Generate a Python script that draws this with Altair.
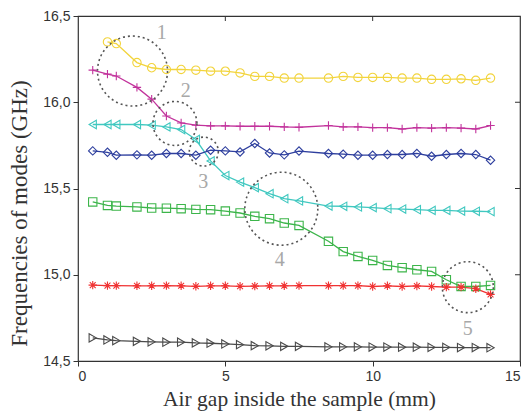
import altair as alt
import pandas as pd

# ---- data ----
x_all = [0.5, 1.0, 1.3, 2.0, 2.5, 3.0, 3.5, 4.0, 4.5, 5.0, 5.5, 6.0, 6.5, 7.0,
         7.5, 8.5, 9.0, 9.5, 10.0, 10.5, 11.0, 11.5, 12.0, 12.5, 13.0, 13.5, 14.0]

yellow = [16.35, 16.34, 16.23, 16.20, 16.19, 16.19, 16.186, 16.18, 16.18, 16.17,
          16.15, 16.15, 16.14, 16.14, 16.14, 16.15, 16.144, 16.144, 16.144, 16.14,
          16.14, 16.133, 16.133, 16.136, 16.127, 16.14]  # starts at x=1.0
magenta = [16.186, 16.163, 16.152, 16.086, 16.018, 15.92, 15.88, 15.867, 15.863, 15.863,
           15.861, 15.861, 15.861, 15.857, 15.855, 15.865, 15.857, 15.857, 15.853, 15.853,
           15.845, 15.853, 15.85, 15.853, 15.85, 15.845, 15.865]
cyan = [15.871, 15.871, 15.871, 15.871, 15.867, 15.857, 15.842, 15.784, 15.66, 15.575,
        15.537, 15.505, 15.47, 15.441, 15.428, 15.398, 15.397, 15.393, 15.389, 15.383,
        15.381, 15.377, 15.373, 15.373, 15.369, 15.368, 15.366]
blue = [15.718, 15.71, 15.693, 15.695, 15.693, 15.703, 15.703, 15.693, 15.722, 15.718,
        15.712, 15.761, 15.706, 15.695, 15.717, 15.703, 15.699, 15.693, 15.693, 15.697,
        15.697, 15.703, 15.687, 15.697, 15.703, 15.697, 15.664]
green = [15.422, 15.402, 15.398, 15.393, 15.387, 15.386, 15.383, 15.379, 15.377, 15.369,
         15.358, 15.339, 15.325, 15.30, 15.286, 15.194, 15.134, 15.106, 15.083, 15.054,
         15.041, 15.029, 15.019, 14.971, 14.932, 14.932, 14.938]
red = [14.94, 14.937, 14.937, 14.936, 14.936, 14.937, 14.936, 14.933, 14.936, 14.936,
       14.933, 14.934, 14.936, 14.936, 14.937, 14.937, 14.937, 14.937, 14.932, 14.936,
       14.932, 14.935, 14.932, 14.928, 14.928, 14.919, 14.886]
black = [14.634, 14.622, 14.618, 14.614, 14.611, 14.609, 14.609, 14.605, 14.603, 14.599,
         14.595, 14.589, 14.588, 14.585, 14.585, 14.582, 14.582, 14.582, 14.581, 14.581,
         14.58, 14.58, 14.579, 14.579, 14.578, 14.578, 14.577]

series_names = ["yellow", "magenta", "cyan", "blue", "green", "red", "black"]
series_colors = ["#f2d43c", "#c2339c", "#40c8c0", "#2e3f9e", "#3cb54a", "#f03232", "#4a4a4a"]
plus_path = "M-1,0L1,0M0,-1L0,1"
star_path = "M-1,0L1,0M0,-1L0,1M-0.7,-0.7L0.7,0.7M-0.7,0.7L0.7,-0.7"
series_shapes = ["circle", plus_path, "triangle-left", "diamond", "square", star_path, "triangle-right"]

# annotation circles (data coords) and labels
circ_x = [1.85, 3.29, 4.27, 6.90, 13.23]
circ_y = [16.181, 15.877, 15.714, 15.383, 14.928]
circ_d = [70, 44, 29, 73, 51]  # diameters in px
lab_text = ["1", "2", "3", "4", "5"]
lab_x = [2.84, 3.66, 4.25, 6.85, 13.23]
lab_y = [16.40, 16.066, 15.538, 15.083, 14.686]

x_ticks = [0, 5, 10, 15]
y_ticks = [14.5, 15.0, 15.5, 16.0, 16.5]
top_ticks = [5, 10]
right_ticks = [15.0, 15.5, 16.0]

W, H = 442, 345

rows = []
for name, vals in zip(series_names, [yellow, magenta, cyan, blue, green, red, black]):
    xs = x_all[len(x_all) - len(vals):]
    for xv, yv in zip(xs, vals):
        rows.append({"series": name, "x": xv, "y": yv})
df = pd.DataFrame(rows)

circ_df = pd.DataFrame({"x": circ_x, "y": circ_y, "s": [d * d for d in circ_d]})
lab_df = pd.DataFrame({"x": lab_x, "y": lab_y, "t": lab_text})
top_df = pd.DataFrame({"x": top_ticks})
right_df = pd.DataFrame({"y": right_ticks})

xscale = alt.Scale(domain=[0, 15], nice=False, zero=False)
yscale = alt.Scale(domain=[14.5, 16.5], nice=False, zero=False)
cscale = alt.Scale(domain=series_names, range=series_colors)
sscale = alt.Scale(domain=series_names, range=series_shapes)

label_expr = "replace(format(datum.value, '.1f'), '.', ',')"

x_bottom = alt.X("x:Q", scale=xscale,
                 axis=alt.Axis(orient="bottom", values=x_ticks, title="Air gap inside the sample (mm)",
                               tickSize=5, domain=False, grid=False, labelFont="Liberation Sans",
                               labelFontSize=14, labelColor="#333", labelPadding=3, tickColor="#333",
                               titleFont="Liberation Serif", titleFontSize=21.5, titleFontWeight="normal",
                               titleColor="#333", titlePadding=5))
y_left = alt.Y("y:Q", scale=yscale,
               axis=alt.Axis(orient="left", values=y_ticks, labelExpr=label_expr,
                             title="Frequencies of modes (GHz)", tickSize=5, domain=False, grid=False,
                             labelFont="Liberation Sans", labelFontSize=14, labelColor="#333", labelPadding=3,
                             tickColor="#333", titleFont="Liberation Serif", titleFontSize=23,
                             titleFontWeight="normal", titleColor="#333", titleX=-59, titleY=197,
                             titleAngle=270, titleAlign="center", titleBaseline="middle"))

lines = alt.Chart(df).mark_line(strokeWidth=1.3).encode(
    x=x_bottom, y=y_left,
    color=alt.Color("series:N", scale=cscale, legend=None),
    detail="series:N",
)
points = alt.Chart(df).mark_point(filled=False, size=70, strokeWidth=1.1, opacity=1).encode(
    x=alt.X("x:Q", scale=xscale),
    y=alt.Y("y:Q", scale=yscale),
    color=alt.Color("series:N", scale=cscale, legend=None),
    shape=alt.Shape("series:N", scale=sscale, legend=None),
)
circles = alt.Chart(circ_df).mark_point(shape="circle", filled=False, color="#555555",
                                         strokeWidth=1.6, strokeDash=[2, 3], opacity=1).encode(
    x=alt.X("x:Q", scale=xscale),
    y=alt.Y("y:Q", scale=yscale),
    size=alt.Size("s:Q", scale=None),
)
labels = alt.Chart(lab_df).mark_text(font="Liberation Serif", fontSize=20, color="#a8a8a8").encode(
    x=alt.X("x:Q", scale=xscale),
    y=alt.Y("y:Q", scale=yscale),
    text="t:N",
)
top_rules = alt.Chart(top_df).mark_rule(color="#333", strokeWidth=1).encode(
    x=alt.X("x:Q", scale=xscale),
    y=alt.value(0), y2=alt.value(5),
)
right_rules = alt.Chart(right_df).mark_rule(color="#333", strokeWidth=1).encode(
    y=alt.Y("y:Q", scale=yscale),
    x=alt.value(W - 5), x2=alt.value(W),
)

chart = alt.layer(lines, points, circles, labels, top_rules, right_rules).properties(
    width=W, height=H,
    padding={"left": 78, "top": 16, "right": 8, "bottom": 55},
    autosize=alt.AutoSizeParams(type="none"),
).configure_view(stroke="#333", strokeWidth=1.2)

chart.save("out.html", embed_options={"renderer": "svg", "actions": False})
